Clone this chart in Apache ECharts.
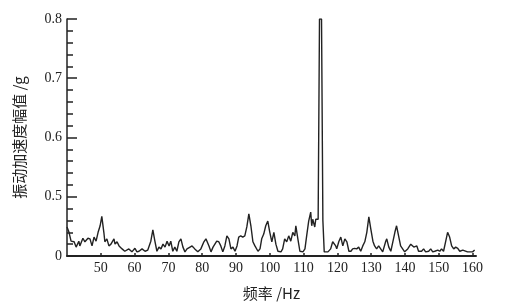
<!DOCTYPE html>
<html>
<head>
<meta charset="utf-8">
<script src="https://cdn.jsdelivr.net/npm/echarts@6/dist/echarts.min.js"></script>
<style>html,body{margin:0;padding:0;background:#fff}#c{width:513px;height:306px}</style>
</head>
<body>
<div id="c"></div>
<script>
// y axis tick labels (axis is drawn in label steps: 0,0.5,0.6,0.7,0.8)
const yTickLabels = ['0', '0.5', '0.6', '0.7', '0.8'];
const xTickLabels = [50, 60, 70, 80, 90, 100, 110, 120, 130, 140, 150, 160];
// frequency (Hz)
const freqs = [40.0,40.6,41.2,42.1,42.7,43.5,43.8,44.7,45.3,46.2,46.8,47.4,48.0,48.6,49.2,49.8,50.3,50.9,51.2,51.8,52.4,53.0,53.9,54.2,54.8,55.4,56.3,57.1,58.3,59.2,59.5,60.1,60.7,61.3,62.2,63.1,63.9,64.8,65.4,66.0,66.6,67.2,67.8,68.4,69.0,69.6,70.2,70.7,71.3,71.9,72.5,73.1,73.7,74.3,74.9,75.5,76.4,77.0,77.8,78.7,79.6,80.5,81.1,82.0,82.6,83.2,83.7,84.3,84.9,85.5,86.1,86.7,87.3,87.9,88.5,89.1,89.7,90.3,90.8,91.4,92.0,92.6,93.2,93.8,94.4,95.0,95.6,96.5,97.1,97.6,98.2,98.8,99.4,100.0,100.6,101.2,101.8,102.4,103.3,103.8,104.4,105.0,105.6,106.2,106.8,107.4,107.7,108.3,108.9,109.8,110.4,110.9,111.5,112.1,112.4,112.7,113.3,113.6,114.3,114.7,115.3,115.7,116.1,117.2,118.0,118.6,119.5,119.8,120.4,121.0,121.6,122.2,122.8,123.4,124.0,124.5,125.1,125.7,126.3,126.9,127.5,128.1,128.7,129.3,129.9,130.5,131.0,131.6,132.2,132.8,133.4,134.3,134.6,135.2,135.8,136.4,137.0,137.5,138.1,138.7,139.3,139.9,140.8,141.7,142.6,143.5,144.0,144.9,145.5,146.1,147.0,147.6,148.2,148.8,149.7,150.3,150.8,151.4,152.0,152.6,153.2,153.8,154.4,155.0,155.6,156.2,157.1,157.6,158.5,159.1,160.0,160.6];
// amplitude, in axis label steps
const amps = [0.49,0.40,0.25,0.24,0.15,0.25,0.17,0.30,0.24,0.30,0.29,0.17,0.32,0.25,0.40,0.51,0.67,0.40,0.24,0.29,0.17,0.20,0.29,0.20,0.24,0.17,0.12,0.08,0.12,0.07,0.07,0.13,0.07,0.08,0.12,0.08,0.10,0.25,0.44,0.25,0.08,0.15,0.12,0.20,0.15,0.25,0.17,0.25,0.08,0.15,0.08,0.24,0.29,0.15,0.07,0.12,0.15,0.17,0.12,0.07,0.12,0.24,0.29,0.17,0.07,0.15,0.13,0.25,0.24,0.17,0.07,0.17,0.34,0.29,0.12,0.15,0.08,0.17,0.32,0.34,0.32,0.34,0.49,0.71,0.51,0.24,0.17,0.08,0.12,0.29,0.37,0.51,0.59,0.40,0.24,0.40,0.20,0.08,0.07,0.12,0.29,0.24,0.34,0.25,0.40,0.34,0.51,0.29,0.08,0.07,0.12,0.34,0.59,0.74,0.51,0.62,0.49,0.62,0.62,4.0,4.0,0.6,0.07,0.07,0.12,0.24,0.17,0.12,0.24,0.32,0.17,0.29,0.24,0.08,0.08,0.12,0.13,0.12,0.15,0.08,0.17,0.24,0.40,0.66,0.45,0.25,0.17,0.12,0.17,0.12,0.07,0.25,0.29,0.15,0.08,0.24,0.40,0.51,0.34,0.17,0.12,0.07,0.12,0.20,0.15,0.17,0.08,0.08,0.12,0.07,0.08,0.12,0.07,0.08,0.10,0.08,0.12,0.08,0.24,0.40,0.32,0.17,0.12,0.15,0.13,0.08,0.10,0.07,0.07,0.07,0.07,0.10];

const data = freqs.map((f, i) => [f, amps[i]]);
const chart = echarts.init(document.getElementById('c'), null, {renderer: 'canvas'});
const serif = '"Liberation Serif", "Times New Roman", serif';
const cjk = '"Noto Sans CJK SC", "Liberation Serif", sans-serif';
chart.setOption({
  animation: false,
  backgroundColor: '#fff',
  grid: {left: 67, right: 37, top: 19, bottom: 49, containLabel: false},
  xAxis: {
    type: 'value', min: 40, max: 161, interval: 10,
    name: '频率 /Hz', nameLocation: 'middle', nameGap: 30,
    nameTextStyle: {fontFamily: cjk, fontSize: 15, color: '#222'},
    axisLine: {show: true, lineStyle: {color: '#222', width: 2}},
    axisTick: {show: true, inside: true, length: 3, lineStyle: {color: '#222', width: 1.5}},
    axisLabel: {
      margin: 5, fontFamily: serif, fontSize: 14, color: '#222',
      showMinLabel: false, showMaxLabel: false,
      formatter: v => xTickLabels.indexOf(v) >= 0 ? String(v) : ''
    },
    splitLine: {show: false}
  },
  yAxis: {
    type: 'value', min: 0, max: 4, interval: 1,
    name: '振动加速度幅值 /g', nameLocation: 'middle', nameGap: 40, nameRotate: 90,
    nameTextStyle: {fontFamily: cjk, fontSize: 15, color: '#222'},
    axisLine: {show: true, lineStyle: {color: '#222', width: 1.5}},
    axisTick: {show: true, inside: true, length: 10, lineStyle: {color: '#222', width: 1.5}},
    minorTick: {show: true, splitNumber: 5, length: 6, lineStyle: {color: '#222', width: 1.5}},
    axisLabel: {margin: 5, fontFamily: serif, fontSize: 14, color: '#222',
      formatter: v => yTickLabels[Math.round(v)]},
    splitLine: {show: false}
  },
  series: [{
    type: 'line', data: data, symbol: 'none', smooth: false,
    lineStyle: {color: '#222', width: 1.4}
  }]
});
</script>
</body>
</html>
